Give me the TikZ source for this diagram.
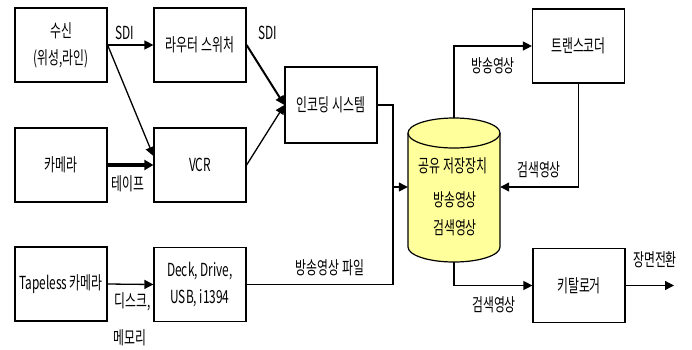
\documentclass[tikz,border=0pt]{standalone}
\usepackage{fontspec}
\setmainfont{Noto Sans CJK KR}[FakeStretch=0.66]
\usetikzlibrary{arrows.meta}
\definecolor{cylfill}{HTML}{FFFF9C}

\begin{document}
\begin{tikzpicture}[x=1pt,y=-1pt,
  font=\fontsize{18}{27}\selectfont,
  box/.style={draw, line width=1.2pt, minimum width=92pt, minimum height=74pt,
              inner sep=0pt, align=center, fill=white},
  arr/.style={line width=1.3pt, -{Triangle[length=9pt,width=9pt]}},
  wire/.style={line width=1.3pt},
  lbl/.style={inner sep=0pt}]

\useasboundingbox[fill=white] (0,0) rectangle (692,349);

% processing blocks
\node[box] (rx)     at (61,45)    {수신\\(위성,라인)};
\node[box] (router) at (200,45)   {라우터 스위처};
\node[box] (cam)    at (61,165)   {카메라};
\node[box] (vcr)    at (200,165)  {VCR};
\node[box] (tl)     at (61,284)   {Tapeless 카메라};
\node[box] (deck)   at (200,284.5){Deck, Drive,\\USB, i1394};
\node[box, minimum height=76pt] (enc) at (331,105) {인코딩 시스템};
\node[box] (trans)  at (578.5,46) {트랜스코더};
\node[box] (klog)   at (579,285.5){키탈로거};

% shared storage drum
\node[minimum width=92pt, minimum height=144pt, inner sep=0pt] (cyl) at (454,190) {};
\fill[cylfill] (408,133) -- (408,247)
  arc[start angle=180, end angle=0, x radius=46, y radius=15]
  -- (500,133) -- cycle;
\draw[line width=1.2pt] (408,133) -- (408,247)
  arc[start angle=180, end angle=0, x radius=46, y radius=15]
  -- (500,133);
\draw[line width=1.2pt, fill=cylfill] (454,133) ellipse[x radius=46, y radius=15];
\node[lbl] (cylA) at (453,166) {공유 저장장치};
\node[lbl] (cylB) at (455,200) {방송영상};
\node[lbl] (cylC) at (455,228) {검색영상};

% junction in front of the storage
\coordinate (jn) at (393,187);
\coordinate (out) at (674,285.5);

% connectors
\draw[arr] (rx.east) -- (router.west);
\draw[arr] (rx.east) -- ([yshift=9pt]vcr.west);
\draw[line width=3.5pt, -{Triangle[length=9pt,width=10pt]}] (cam.east) -- (vcr.west);
\draw[line width=2pt, -{Triangle[length=9pt,width=9pt]}] (router.east) -- (enc.west);
\draw[arr] (vcr.east) -- (enc.west);
\draw[wire] (enc.east) -| (jn);
\draw[wire] (deck.east) -| (jn);
\draw[arr] (tl.east) -- (deck.west);
\draw[arr] (jn) -- ([yshift=3pt]cyl.west);
\draw[arr] (cyl.north) |- (trans.west);
\draw[arr] (trans.south) |- ([yshift=3pt]cyl.east);
\draw[arr] (cyl.south) |- (klog.west);
\draw[arr] (klog.east) -- (out);

% connector labels
\node[lbl] (sdiA)  at (125,33)  {SDI};
\node[lbl] (sdiB)  at (268,33)  {SDI};
\node[lbl] (tape)  at (128,184) {테이프};
\node[lbl] (disk)  at (133,302) {디스크,};
\node[lbl] (mem)   at (130,338) {메모리};
\node[lbl] (file)  at (330,268) {방송영상 파일};
\node[lbl] (bcast) at (493,66)  {방송영상};
\node[lbl] (srchA) at (539,170) {검색영상};
\node[lbl] (srchB) at (494,305) {검색영상};
\node[lbl] (scene) at (655,260) {장면전환};
\end{tikzpicture}
\end{document}
